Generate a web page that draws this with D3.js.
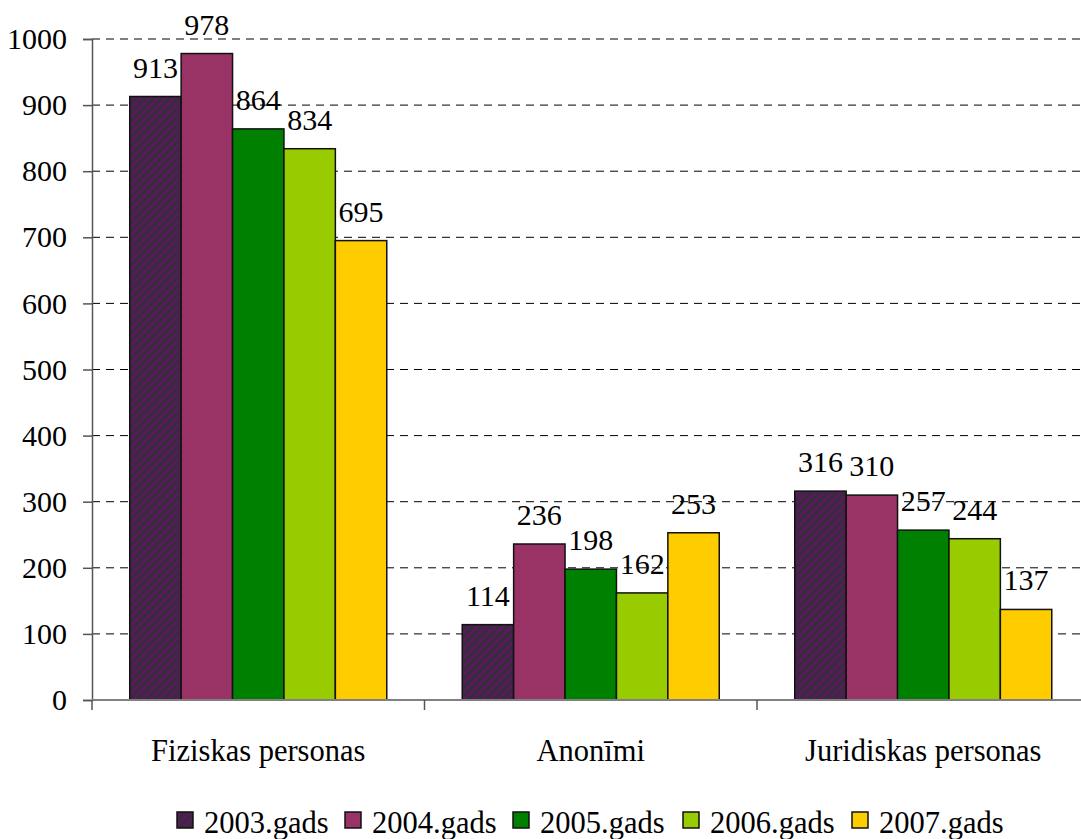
<!DOCTYPE html>
<html><head><meta charset="utf-8">
<script src="https://cdn.jsdelivr.net/npm/d3@7"></script>
<style>body{margin:0;background:#fff}svg{display:block}text{font-family:"Liberation Serif","Times New Roman",serif;fill:#000}</style>
</head><body><svg id="c" width="1081" height="839"></svg>
<script>
const categories = ["Fiziskas personas", "Anonīmi", "Juridiskas personas"];
const seriesNames = ["2003.gads", "2004.gads", "2005.gads", "2006.gads", "2007.gads"];
const values2003 = [913, 114, 316];
const values2004 = [978, 236, 310];
const values2005 = [864, 198, 257];
const values2006 = [834, 162, 244];
const values2007 = [695, 253, 137];
const yTicks = [0, 100, 200, 300, 400, 500, 600, 700, 800, 900, 1000];
const colors = ["url(#hatch)", "#993366", "#008000", "#99cc00", "#ffcc00"];

const series = [values2003, values2004, values2005, values2006, values2007];
const svg = d3.select("#c");
const defs = svg.append("defs");
const pat = defs.append("pattern").attr("id", "hatch").attr("patternUnits", "userSpaceOnUse")
  .attr("width", 6).attr("height", 6).attr("patternTransform", "rotate(45)");
pat.append("rect").attr("width", 6).attr("height", 6).attr("fill", "#3a2a3e");
pat.append("rect").attr("x", 0).attr("width", 1.6).attr("height", 6).attr("fill", "#6a0f6e");

const mLeft = 92, mRight = 1089.5, mTop = 39, mBottom = 700;
const x0 = d3.scaleBand().domain(categories).range([mLeft, mRight]).padding(0);
const inner = x0.bandwidth() * 0.773;
const x1 = d3.scaleBand().domain(seriesNames).range([0, inner]).padding(0);
const y = d3.scaleLinear().domain([0, 1000]).range([mBottom, mTop]);

// gridlines
svg.append("g").selectAll("line").data(yTicks.filter(d => d > 0)).join("line")
  .attr("x1", mLeft).attr("x2", mRight).attr("y1", d => y(d)).attr("y2", d => y(d))
  .attr("stroke", "#000").attr("stroke-width", 1).attr("stroke-dasharray", "8,6");

// bars
const g = svg.append("g");
series.forEach((vals, si) => {
  g.selectAll(null).data(vals).join("rect")
    .attr("x", (d, i) => x0(categories[i]) + (x0.bandwidth() - inner) / 2 + x1(seriesNames[si]))
    .attr("y", d => y(d))
    .attr("width", x1.bandwidth())
    .attr("height", d => y(0) - y(d))
    .attr("fill", colors[si]).attr("stroke", "#111").attr("stroke-width", 1.5);
  g.selectAll(null).data(vals).join("text")
    .attr("x", (d, i) => x0(categories[i]) + (x0.bandwidth() - inner) / 2 + x1(seriesNames[si]) + x1.bandwidth() / 2)
    .attr("y", d => y(d) - 19)
    .attr("text-anchor", "middle").attr("font-size", 30).text(d => d);
});

// y axis
const ya = svg.append("g").attr("transform", `translate(${mLeft},0)`)
  .call(d3.axisLeft(y).tickValues(yTicks).tickSize(9).tickPadding(16).tickFormat(d3.format("d")));
ya.select(".domain").attr("stroke", "#555").attr("stroke-width", 1.5);
ya.selectAll(".tick line").attr("stroke", "#555").attr("stroke-width", 1.5);
ya.selectAll("text").attr("font-size", 30).attr("font-family", "Liberation Serif").attr("fill", "#000");

// x axis
svg.append("line").attr("x1", mLeft).attr("x2", mRight).attr("y1", mBottom).attr("y2", mBottom)
  .attr("stroke", "#808080").attr("stroke-width", 2);
svg.append("g").selectAll("line").data(categories).join("line")
  .attr("x1", d => x0(d)).attr("x2", d => x0(d)).attr("y1", mBottom).attr("y2", mBottom + 10)
  .attr("stroke", "#555").attr("stroke-width", 1.5);
svg.append("g").selectAll("text").data(categories).join("text")
  .attr("x", d => x0(d) + x0.bandwidth() / 2).attr("y", 761)
  .attr("text-anchor", "middle").attr("font-size", 30.5).text(d => d);

// legend
const legX = [177, 345, 513, 683, 852];
const lg = svg.append("g");
seriesNames.forEach((s, i) => {
  lg.append("rect").attr("x", legX[i]).attr("y", 812).attr("width", 16).attr("height", 16)
    .attr("fill", colors[i]).attr("stroke", "#111").attr("stroke-width", 1.5);
  lg.append("text").attr("x", legX[i] + 27).attr("y", 833).attr("font-size", 30.5).text(s);
});
</script></body></html>
